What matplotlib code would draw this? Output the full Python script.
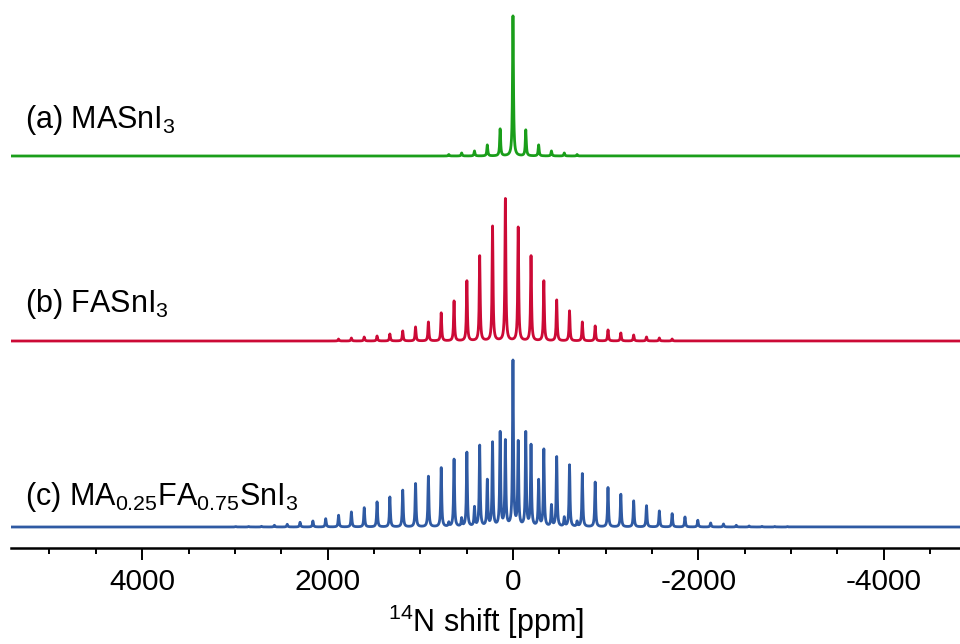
import numpy as np
import matplotlib
matplotlib.use('Agg')
import matplotlib.pyplot as plt

plt.rcParams['font.family'] = ['Liberation Sans', 'DejaVu Sans']
plt.rcParams['mathtext.fontset'] = 'custom'
plt.rcParams['mathtext.rm'] = 'Liberation Sans'
plt.rcParams['axes.unicode_minus'] = False

# spinning sideband spacing in ppm
SPACING = 138.4

# (a) MASnI3 : isotropic shift and sideband heights for k = -5 .. 5
ma_center = 0.0
ma_k = list(range(-5, 6))
ma_heights = [1.5, 3, 5, 11, 27, 140, 26, 11, 5, 3, 1.5]

# (b) FASnI3 : k = -13 .. 13
fa_center = 82.0
fa_k = list(range(-13, 14))
fa_heights = [2, 3, 4, 5, 7, 10, 14, 19, 28, 40, 60, 85, 115,
              142,
              114, 85, 60, 41, 30, 19, 15, 11, 8, 6, 4, 3, 2]

# (c) MA0.25FA0.75SnI3 : FA-type sidebands k = -21 .. 22
mix_fa_k = list(range(-21, 23))
mix_fa_heights = [0.4, 0.5, 0.7, 1.7, 2.7, 4.7, 6, 8.3, 11.7, 15, 19.3, 25, 30,
                  36.7, 43.3, 50.7, 59, 67.7, 74.3, 81, 84,
                  85,
                  84, 81, 77, 70, 61.7, 53.3, 44.7, 39.3, 32.7, 26, 21.3, 16,
                  13.3, 10, 6.7, 4, 3, 1.7, 1, 0.6, 0.5, 0.4]
# MA-type sidebands k = -5 .. 5
mix_ma_k = list(range(-5, 6))
mix_ma_heights = [4, 8, 19, 46, 94, 165, 94, 46, 21, 9, 5]

labels = [r'(a) MASnI$_\mathregular{3}$',
          r'(b) FASnI$_\mathregular{3}$',
          r'(c) MA$_\mathregular{0.25}$FA$_\mathregular{0.75}$SnI$_\mathregular{3}$']
colors = ['#1a9e1a', '#cc0a36', '#2f5aa3']
offsets = [371, 186, 0]
label_y = [399, 215, 22]

ppm = np.arange(-5000, 5600, 1.0)
hwhm = 6.0


def spectrum(center, ks, heights):
    y = np.zeros_like(ppm)
    for k, h in zip(ks, heights):
        pos = center - k * SPACING
        y += h * hwhm ** 2 / ((ppm - pos) ** 2 + hwhm ** 2)
    return y


spectra = [
    spectrum(ma_center, ma_k, ma_heights),
    spectrum(fa_center, fa_k, fa_heights),
    spectrum(fa_center, mix_fa_k, mix_fa_heights)
    + spectrum(ma_center, mix_ma_k, mix_ma_heights),
]

fig = plt.figure(figsize=(9.6, 6.44), dpi=100)
ax = fig.add_axes([11 / 960, 96 / 644, 949 / 960, 548 / 644])

for y, off, c, lab, ly in zip(spectra, offsets, colors, labels, label_y):
    ax.plot(ppm, y + off, color=c, lw=2.0, solid_joinstyle='round')
    ax.text(5265, ly, lab, fontsize=22, color='black',
            va='baseline', ha='left')

ax.set_xlim(5415, -4822)
ax.set_ylim(-21, 527)
for side in ['left', 'right', 'top']:
    ax.spines[side].set_visible(False)
ax.spines['bottom'].set_linewidth(1.8)
ax.set_yticks([])
ax.set_xticks([4000, 2000, 0, -2000, -4000])
ax.set_xticks(np.arange(-4500, 5500, 500), minor=True)
ax.tick_params(axis='x', which='major', direction='out', length=8.5, width=1.4,
               labelsize=21.5, pad=6)
ax.tick_params(axis='x', which='minor', direction='out', length=4.5, width=1.4)
ax.set_xlabel(r'$^\mathregular{14}$N shift [ppm]', fontsize=22, labelpad=5)

fig.savefig('out.png', dpi=100)
